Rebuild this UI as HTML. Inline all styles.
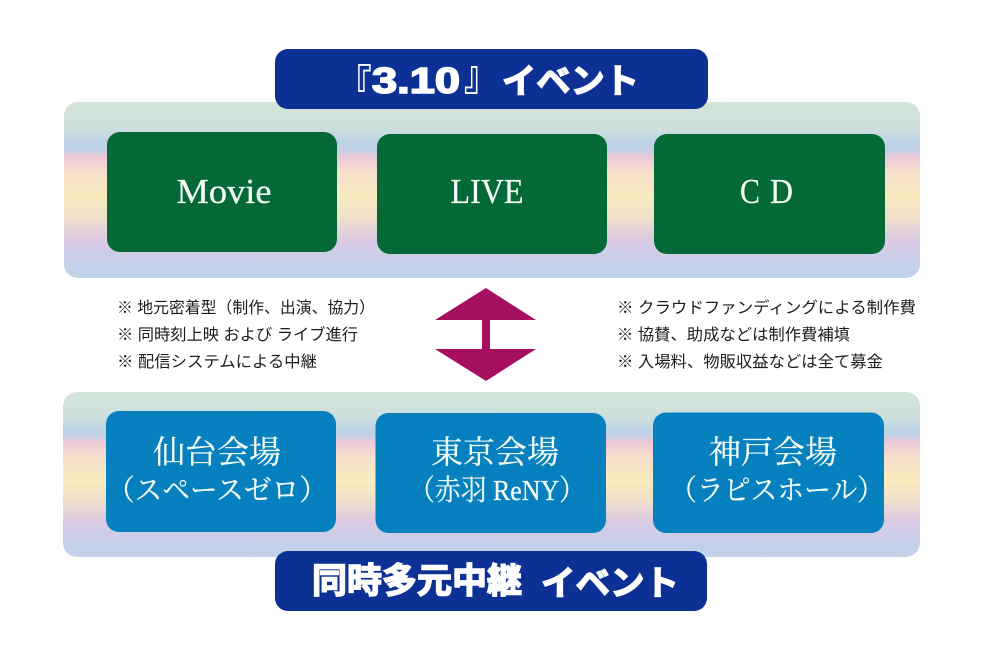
<!DOCTYPE html>
<html lang="ja">
<head>
<meta charset="utf-8">
<style>
html,body{margin:0;padding:0;background:#fff;width:1000px;height:666px;overflow:hidden}
svg{display:block}
.s{font-family:"Liberation Serif","Noto Serif CJK SC",serif;fill:#f2fbf4;stroke:#f2fbf4;stroke-width:.25}
.m{text-anchor:middle}
.n{font-family:"Liberation Sans","Noto Sans CJK JP",sans-serif;font-size:16px;fill:#1c1c1c}
.h{font-family:"Liberation Sans","Noto Sans CJK JP",sans-serif;font-weight:700;fill:#fff;stroke:#fff}
</style>
</head>
<body>
<svg width="1000" height="666" viewBox="0 0 1000 666" xmlns="http://www.w3.org/2000/svg">
<defs>
<linearGradient id="g1" gradientUnits="userSpaceOnUse" x1="0" y1="102" x2="0" y2="278">
<stop offset="0" stop-color="#d3e5d8"/>
<stop offset=".14" stop-color="#cfe0dc"/>
<stop offset=".24" stop-color="#bcd2e6"/>
<stop offset=".28" stop-color="#c6d0e4"/>
<stop offset=".31" stop-color="#ecc8d9"/>
<stop offset=".4" stop-color="#f6e0cc"/>
<stop offset=".54" stop-color="#f9ecbe"/>
<stop offset=".66" stop-color="#f0e0cc"/>
<stop offset=".78" stop-color="#dcc9e2"/>
<stop offset=".92" stop-color="#c3d0ea"/>
<stop offset="1" stop-color="#c2d2e9"/>
</linearGradient>
<linearGradient id="g2" gradientUnits="userSpaceOnUse" x1="0" y1="392" x2="0" y2="557">
<stop offset="0" stop-color="#d0e5d9"/>
<stop offset=".14" stop-color="#cfe0dc"/>
<stop offset=".24" stop-color="#bcd2e6"/>
<stop offset=".27" stop-color="#c6d0e4"/>
<stop offset=".3" stop-color="#ecc8d9"/>
<stop offset=".4" stop-color="#f6e0cc"/>
<stop offset=".54" stop-color="#f9ecbe"/>
<stop offset=".66" stop-color="#f0e0cc"/>
<stop offset=".78" stop-color="#dcc9e2"/>
<stop offset=".92" stop-color="#c3d0ea"/>
<stop offset="1" stop-color="#c2d2e9"/>
</linearGradient>
</defs>

<!-- panels -->
<rect x="64" y="102" width="856" height="176" rx="14" fill="url(#g1)"/>
<rect x="63" y="392" width="857" height="165" rx="14" fill="url(#g2)"/>

<!-- headers -->
<rect x="275" y="49" width="433" height="60" rx="13" fill="#0c3094"/>
<rect x="275" y="551" width="432" height="60" rx="13" fill="#0c3094"/>

<!-- top header text -->
<text class="h" font-size="42" stroke-width="0" transform="translate(338,100) scale(.8,1)">『</text>
<text class="h" x="372" y="93" font-size="36" stroke-width="1.6" textLength="88" lengthAdjust="spacingAndGlyphs">3.10</text>
<text class="h" font-size="42" stroke-width="0" transform="translate(464,90) scale(.8,1)">』</text>
<text class="h" x="502" y="93" font-size="34" stroke-width="1.4" textLength="137" lengthAdjust="spacingAndGlyphs">イベント</text>

<!-- bottom header text -->
<text class="h" x="312" y="593" font-size="35" stroke-width="1.5" textLength="210" lengthAdjust="spacingAndGlyphs">同時多元中継</text>
<text class="h" x="541" y="595" font-size="34" stroke-width="1.4" textLength="138" lengthAdjust="spacingAndGlyphs">イベント</text>

<!-- green boxes -->
<rect x="107" y="132" width="230" height="120" rx="13" fill="#046837"/>
<rect x="377" y="134" width="230" height="120" rx="13" fill="#046837"/>
<rect x="654" y="134" width="231" height="120" rx="13" fill="#046837"/>
<text class="s m" x="224" y="203" font-size="35" textLength="95" lengthAdjust="spacingAndGlyphs">Movie</text>
<text class="s m" x="487" y="203" font-size="35" textLength="73" lengthAdjust="spacingAndGlyphs">LIVE</text>
<text class="s" x="740" y="203" font-size="35" textLength="20" lengthAdjust="spacingAndGlyphs">C</text>
<text class="s" x="770" y="203" font-size="35" textLength="23" lengthAdjust="spacingAndGlyphs">D</text>

<!-- blue boxes -->
<rect x="106" y="411" width="230" height="121" rx="13" fill="#0780bf"/>
<rect x="375.500" y="413" width="230.500" height="120" rx="13" fill="#0780bf"/>
<rect x="653" y="412.500" width="231" height="120.500" rx="13" fill="#0780bf"/>

<text class="s m" x="217" y="463" font-size="32">仙台会場</text>
<text class="s" x="107" y="500" font-size="29" textLength="220" lengthAdjust="spacingAndGlyphs">（スペースゼロ）</text>
<text class="s m" x="495" y="463" font-size="32">東京会場</text>
<text class="s" x="409" y="500" font-size="29" textLength="176" lengthAdjust="spacingAndGlyphs">（赤羽 ReNY）</text>
<text class="s m" x="773" y="463" font-size="32">神戸会場</text>
<text class="s" x="670" y="500" font-size="29" textLength="214" lengthAdjust="spacingAndGlyphs">（ラピスホール）</text>

<!-- arrow -->
<polygon points="486,288 536,320 490,320 490,349 536,349 486,381 435,349 482,349 482,320 435,320" fill="#a50f5e"/>

<!-- notes left -->
<text class="n" x="117" y="313" textLength="258" lengthAdjust="spacingAndGlyphs">※ 地元密着型（制作、出演、協力）</text>
<text class="n" x="117" y="340" textLength="241" lengthAdjust="spacingAndGlyphs">※ 同時刻上映 および ライブ進行</text>
<text class="n" x="117" y="367" textLength="200" lengthAdjust="spacingAndGlyphs">※ 配信システムによる中継</text>

<!-- notes right -->
<text class="n" x="617" y="313" textLength="299" lengthAdjust="spacingAndGlyphs">※ クラウドファンディングによる制作費</text>
<text class="n" x="617" y="340" textLength="233" lengthAdjust="spacingAndGlyphs">※ 協賛、助成などは制作費補填</text>
<text class="n" x="617" y="367" textLength="266" lengthAdjust="spacingAndGlyphs">※ 入場料、物販収益などは全て募金</text>
</svg>
</body>
</html>
